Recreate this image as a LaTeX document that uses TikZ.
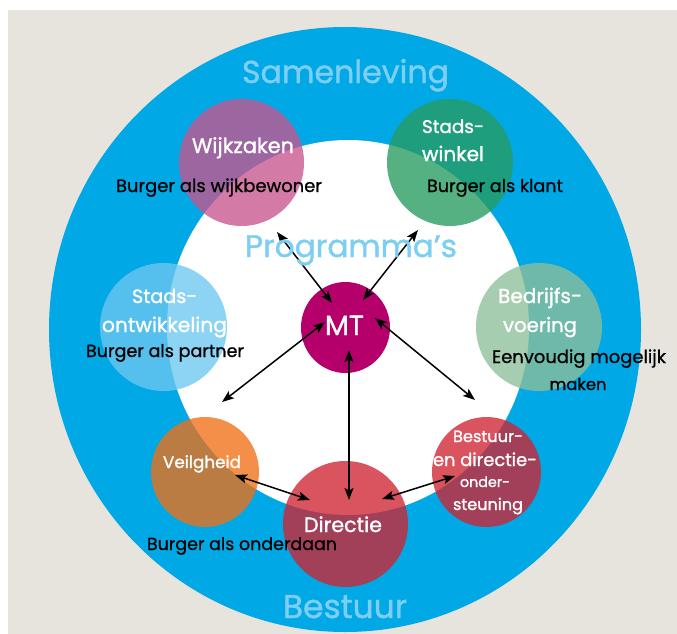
\documentclass[tikz,border=0pt]{standalone}
\usepackage{fontspec}
\setmainfont{Poppins}
\newfontfamily\medfont{Poppins}[FakeBold=1.3]
\newfontfamily\regfont{Poppins}[FakeBold=0.8]
\usetikzlibrary{shapes.geometric,arrows.meta}
\definecolor{bggray}{HTML}{E7E4DE}
\definecolor{ringblue}{HTML}{00A8E6}
\definecolor{titleblue}{HTML}{7CCFF2}
\definecolor{cwijk}{RGB}{200,85,142}
\definecolor{cwinkel}{RGB}{39,156,96}
\definecolor{contw}{RGB}{109,200,241}
\definecolor{cbedr}{RGB}{141,191,154}
\definecolor{cmt}{HTML}{B5006B}
\definecolor{cveil}{RGB}{240,112,22}
\definecolor{cdir}{RGB}{207,36,49}
\newcommand\fitw[2]{\resizebox{#1pt}{!}{#2}}
\begin{document}
\begin{tikzpicture}[x=1pt,y=-1pt,
  blob/.style={ellipse,inner sep=0pt,fill opacity=0.78,draw=none},
  ptext/.style={anchor=base,inner sep=0pt,text=white,font=\medfont},
  btext/.style={anchor=base,inner sep=0pt,text=black,font=\regfont},
  ttext/.style={anchor=base,inner sep=0pt,text=titleblue,font=\medfont},
  arr/.style={line width=1.5pt,{Stealth[length=12pt,width=9pt,inset=2.5pt]}-{Stealth[length=12pt,width=9pt,inset=2.5pt]}}]
\useasboundingbox (0,0) rectangle (677,634);
\fill[white] (0,0) rectangle (677,634);
\fill[bggray] (8,10) rectangle (677,634);
% rings
\node[ellipse,fill=ringblue,inner sep=0pt,minimum width=592pt,minimum height=605pt] (ring) at (345,329.5) {};
\node[ellipse,fill=white,inner sep=0pt,minimum width=362pt,minimum height=375pt] (prog) at (348,327.5) {};
% circles
\node[blob,fill=cwijk,minimum width=125pt,minimum height=127pt] (wijk) at (241.5,162.5) {};
\node[blob,fill=cwinkel,minimum width=126pt,minimum height=127pt] (winkel) at (450,162.5) {};
\node[blob,fill=contw,minimum width=127pt,minimum height=128pt] (ontw) at (163.5,327) {};
\node[blob,fill=cbedr,minimum width=126pt,minimum height=128pt] (bedr) at (539,327) {};
\node[ellipse,inner sep=0pt,fill=cmt,minimum width=89pt,minimum height=91pt] (mt) at (345.5,327.5) {};
\node[blob,fill=cveil,minimum width=108pt,minimum height=110pt] (veil) at (205,472) {};
\node[blob,fill=cdir,minimum width=125pt,minimum height=126pt] (dir) at (345.5,524) {};
\node[blob,fill=cdir,minimum width=109pt,minimum height=110pt] (best) at (486.5,472) {};
% arrows
\draw[arr] ([shift={(-13.5,-24.5)}]mt.center) -- ([shift={(35.5,69.5)}]wijk.center);
\draw[arr] ([shift={(17.5,-27.5)}]mt.center) -- ([shift={(-32,67.5)}]winkel.center);
\draw[arr] ([shift={(-20.5,-5.5)}]mt.center) -- ([shift={(17,-70)}]veil.center);
\draw[arr] ([shift={(29.5,-9.5)}]mt.center) -- ([shift={(-11.5,-72)}]best.center);
\draw[arr] ([shift={(3.5,22.5)}]mt.center) -- ([shift={(3.5,-24)}]dir.center);
\draw[arr] ([shift={(30,3)}]veil.center) -- ([shift={(-35.5,-24)}]dir.center);
\draw[arr] ([shift={(36.5,-25)}]dir.center) -- ([shift={(-31.5,4)}]best.center);
% titles
\node[ttext] (tsam) at (345.5,83) {\fitw{207}{Samenleving}};
\node[ttext] (tprog) at (351,257) {\fitw{212}{Programma’s}};
\node[ttext] (tbest) at (345,618) {\fitw{124}{Bestuur}};
% circle labels
\node[ptext] (lwijk) at (243,153) {\fitw{102}{Wijkzaken}};
\node[ptext] (lwin1) at (453,133) {\fitw{62}{Stads-}};
\node[ptext] (lwin2) at (453,161) {\fitw{62}{winkel}};
\node[ptext] (lmt) at (344.5,335) {\fitw{39}{MT}};
\node[ptext] (lont1) at (164.5,303) {\fitw{65}{Stads-}};
\node[ptext] (lont2) at (164.5,332) {\fitw{125}{ontwikkeling}};
\node[ptext] (lbed1) at (540,303) {\fitw{84}{Bedrijfs-}};
\node[ptext] (lbed2) at (540,332) {\fitw{74}{voering}};
\node[ptext] (lveil) at (202,468) {\fitw{78}{Veilgheid}};
\node[ptext] (ldir) at (343,532) {\fitw{78}{Directie}};
\node[ptext] (lbst1) at (488,442) {\fitw{70}{Bestuur-}};
\node[ptext] (lbst2) at (485,466) {\fitw{104}{en directie-}};
\node[ptext] (lbst3) at (485,487) {\fitw{50}{onder-}};
\node[ptext] (lbst4) at (488,510) {\fitw{70}{steuning}};
% black labels
\node[btext] (bwijk) at (219,192) {\fitw{206}{Burger als wijkbewoner}};
\node[btext] (bklant) at (495,192) {\fitw{136}{Burger als klant}};
\node[btext] (bpart) at (165,357) {\fitw{158}{Burger als partner}};
\node[btext] (beenv) at (579,363) {\fitw{174}{Eenvoudig mogelijk}};
\node[btext] (bmaken) at (578,390) {\fitw{57}{maken}};
\node[btext] (bonder) at (242,550) {\fitw{190}{Burger als onderdaan}};
\end{tikzpicture}
\end{document}
